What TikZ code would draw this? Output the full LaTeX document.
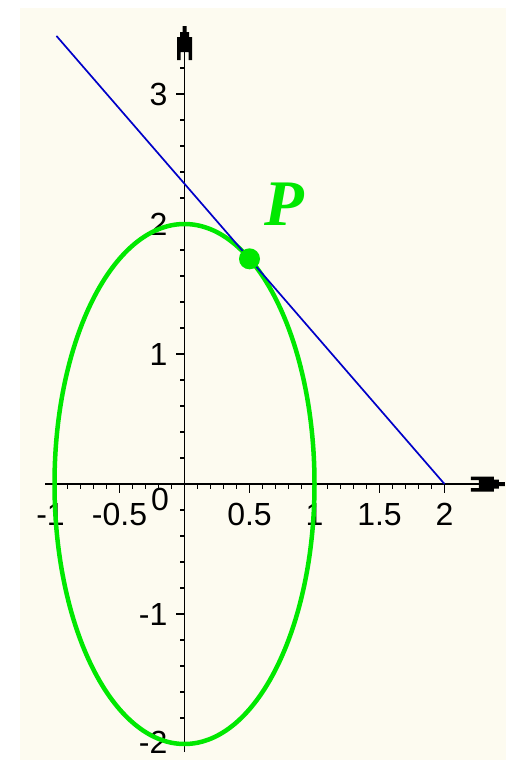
\documentclass[tikz,border=0pt]{standalone}
\usepackage{fontspec}
\newfontfamily\labfont{Liberation Sans}
\newfontfamily\pfont{Liberation Serif}
\definecolor{cream}{RGB}{253,251,240}
\definecolor{elgreen}{RGB}{0,232,0}
\definecolor{lnblue}{RGB}{0,0,200}
\tikzset{
  maplearrow/.pic={
    \fill[black] (0pt,2pt) -- (0pt,-2pt) -- (-6pt,-2pt) -- (-6pt,-4.5pt) -- (-11pt,-4.5pt)
      -- (-11pt,-7.5pt) -- (-26pt,-7.5pt) -- (-34pt,-7.5pt) -- (-34pt,-4pt) -- (-26pt,-4pt)
      -- (-26pt,4pt) -- (-34pt,4pt) -- (-34pt,7.5pt) -- (-11pt,7.5pt) -- (-11pt,4.5pt)
      -- (-6pt,4.5pt) -- (-6pt,2pt) -- cycle;
  },
  tickline/.style={line width=1.3pt, black},
  axisline/.style={line width=1.6pt, black},
  xlab/.style={font=\labfont\fontsize{32}{36}\selectfont, anchor=base, inner sep=0pt},
  ylab/.style={font=\labfont\fontsize{32}{36}\selectfont, anchor=base east, inner sep=0pt}
}
\begin{document}
\begin{tikzpicture}[x=1pt,y=-1pt]
\useasboundingbox (0,0) rectangle (506,760);
\fill[white] (0,0) rectangle (506,760);
\fill[cream] (20,8) rectangle (506,760);
\begin{scope}[shift={(184.5pt,-484pt)}, x=130pt, y=130pt]
  \coordinate (O) at (0,0);
  \coordinate (xs) at (-1.073,0);
  \coordinate (xe) at (2.465,0);
  \coordinate (ys) at (0,-2.062);
  \coordinate (ye) at (0,3.523);
  \draw[axisline] (xs) -- (xe);
  \draw[axisline] (ys) -- (ye);
  \pic at (xe) {maplearrow};
  \pic[rotate=90] at (ye) {maplearrow};
  % ticks
  \foreach \i in {-10,...,20} \draw[tickline] (\i/10,0) -- ++(0,-4.5pt);
  \foreach \v in {-1,-0.5,0.5,1,1.5,2} \draw[tickline] (\v,0) -- ++(0,-8.5pt);
  \foreach \j in {-10,...,16} \draw[tickline] (0,\j/5) -- ++(-4.5pt,0);
  \foreach \v in {-2,-1,1,2,3} \draw[tickline] (0,\v) -- ++(-8.5pt,0);
  % labels
  \node[xlab, xshift=-4pt, yshift=-41pt] (lxm1) at (-1,0) {-1};
  \node[xlab, yshift=-41pt] (lxm05) at (-0.5,0) {-0.5};
  \node[xlab, xshift=-24.5pt, yshift=-26pt] (l0) at (0,0) {0};
  \node[xlab, yshift=-41pt] (lx05) at (0.5,0) {0.5};
  \node[xlab, yshift=-41pt] (lx1) at (1,0) {1};
  \node[xlab, yshift=-41pt] (lx15) at (1.5,0) {1.5};
  \node[xlab, yshift=-41pt] (lx2) at (2,0) {2};
  \node[ylab, xshift=-17pt, yshift=-11.5pt] (ly3) at (0,3) {3};
  \node[ylab, xshift=-17pt, yshift=-11.5pt] (ly2) at (0,2) {2};
  \node[ylab, xshift=-17pt, yshift=-11.5pt] (ly1) at (0,1) {1};
  \node[ylab, xshift=-17pt, yshift=-11.5pt] (lym1) at (0,-1) {-1};
  \node[ylab, xshift=-17pt, yshift=-9pt] (lym2) at (0,-2) {-2};
  % curve, tangent, point
  \draw[elgreen, line width=4.5pt] (O) ellipse [x radius=1, y radius=2];
  \coordinate (tl) at (-0.985,3.4468);
  \coordinate (tx) at (2,0);
  \draw[lnblue, line width=1.7pt] (tl) -- (tx);
  \node[circle, fill=elgreen, minimum size=21pt, inner sep=0pt] (P) at (0.5,1.7321) {};
  \node[font=\pfont\bfseries\itshape\fontsize{65}{70}\selectfont, text=elgreen, inner sep=0pt] (lP) at (0.765,2.154) {P};
\end{scope}
\end{tikzpicture}
\end{document}
